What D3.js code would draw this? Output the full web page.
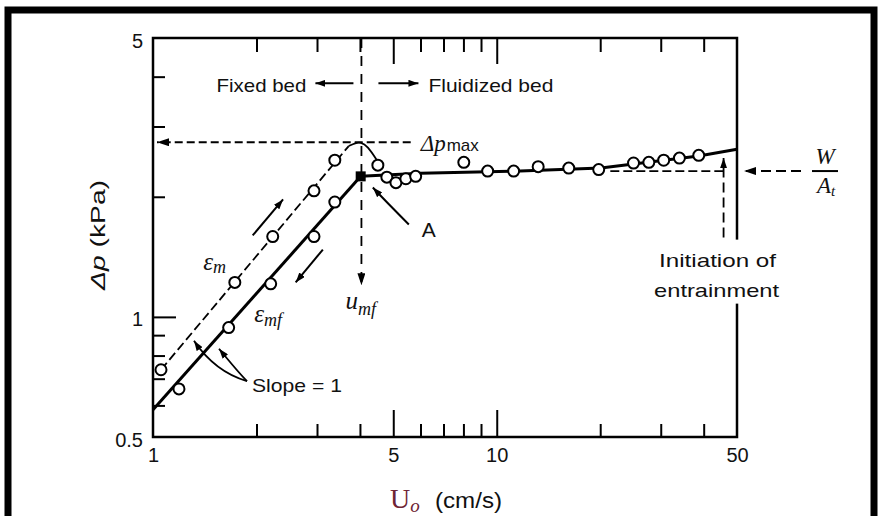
<!DOCTYPE html>
<html>
<head>
<meta charset="utf-8">
<script src="https://cdn.jsdelivr.net/npm/d3@7"></script>
<style>
  body { margin: 0; background: #fff; }
  svg text { font-family: "Liberation Sans", Arial, sans-serif; fill: #111; }
  .serif { font-family: "Liberation Serif", "Times New Roman", serif; font-style: italic; }
</style>
</head>
<body>
<svg id="chart" width="882" height="516"></svg>
<script>
// ---- data (U0 in cm/s, dp in kPa) ----
const xMinorTicks = [2, 3, 4, 6, 7, 8, 9, 20, 30, 40];
const xMajorTicks = [5, 10];
const xTickLabels = [1, 5, 10, 50];
const yMinorTicks = [0.6, 0.7, 0.8, 0.9, 2, 3, 4];
const yMajorTicks = [1];
const yTickLabels = [0.5, 1, 5];

// rising flow, fixed bed at eps_m (dashed)
const emU = [1.055, 1.73, 2.23, 2.94, 3.38];
const emP = [0.737, 1.22, 1.59, 2.07, 2.47];
// falling flow, fixed bed at eps_mf (solid)
const emfU = [1.19, 1.66, 2.20, 2.94, 3.38];
const emfP = [0.66, 0.94, 1.21, 1.59, 1.94];
// fluidized bed points
const fluidU = [4.51, 4.79, 5.09, 5.44, 5.81, 8.02, 9.41, 11.2, 13.2, 16.2, 19.8, 25.0, 27.7, 30.6, 34.0, 38.7];
const fluidP = [2.40, 2.24, 2.17, 2.22, 2.25, 2.44, 2.32, 2.32, 2.38, 2.36, 2.34, 2.43, 2.44, 2.47, 2.50, 2.54];

// drawn curves
const emLineU = [1.055, 3.71];
const emLineP = [0.737, 2.68];
const peakU = [3.71, 3.88, 4.02, 4.2, 4.51];
const peakP = [2.68, 2.73, 2.74, 2.69, 2.45];
const emfLineU = [1, 4.02];
const emfLineP = [0.585, 2.25];
const bedLineU = [4.02, 6.0, 11.7, 20.1, 38.7, 50];
const bedLineP = [2.25, 2.29, 2.32, 2.36, 2.53, 2.63];

const umf = 4.04;
const dpMax = 2.74;
const dpMaxEnd = 5.62;
const wAt = 2.32;
const wAtStart = 21.4;
const uEntrain = 45.7;

// ---- layout ----
const svg = d3.select("#chart");
const x = d3.scaleLog().domain([1, 50]).range([153, 737]);
const y = d3.scaleLog().domain([0.5, 5]).range([437, 38]);
const pt = (u, p) => [x(u), y(p)];

// outer frame
svg.append("rect")
  .attr("x", 8).attr("y", 10)
  .attr("width", 866).attr("height", 530)
  .attr("fill", "none").attr("stroke", "#000").attr("stroke-width", 7);

const defs = svg.append("defs");
defs.append("marker")
  .attr("id", "head")
  .attr("viewBox", "0 0 12 8")
  .attr("refX", 12).attr("refY", 4)
  .attr("markerWidth", 12).attr("markerHeight", 8)
  .attr("markerUnits", "userSpaceOnUse")
  .attr("orient", "auto")
  .append("path").attr("d", "M0,0 L12,4 L0,8 Z").attr("fill", "#000");
defs.append("marker")
  .attr("id", "headSm")
  .attr("viewBox", "0 0 10 7")
  .attr("refX", 10).attr("refY", 3.5)
  .attr("markerWidth", 10).attr("markerHeight", 7)
  .attr("markerUnits", "userSpaceOnUse")
  .attr("orient", "auto")
  .append("path").attr("d", "M0,0 L10,3.5 L0,7 Z").attr("fill", "#000");

// ---- axes (ticks point inward) ----
const axisStyle = g => {
  g.select(".domain").remove();
  g.selectAll("line").attr("stroke", "#000").attr("stroke-width", 2);
};
svg.append("g").attr("transform", `translate(0,${y(0.5)})`)
  .call(d3.axisBottom(x).tickValues(xMinorTicks).tickSize(-13).tickFormat(""))
  .call(axisStyle);
svg.append("g").attr("transform", `translate(0,${y(0.5)})`)
  .call(d3.axisBottom(x).tickValues(xMajorTicks).tickSize(-27).tickFormat(""))
  .call(axisStyle);
svg.append("g").attr("transform", `translate(0,${y(5)})`)
  .call(d3.axisTop(x).tickValues(xMinorTicks).tickSize(-14).tickFormat(""))
  .call(axisStyle);
svg.append("g").attr("transform", `translate(0,${y(5)})`)
  .call(d3.axisTop(x).tickValues(xMajorTicks).tickSize(-26).tickFormat(""))
  .call(axisStyle);
svg.append("g").attr("transform", `translate(${x(1)},0)`)
  .call(d3.axisLeft(y).tickValues(yMinorTicks).tickSize(-12).tickFormat(""))
  .call(axisStyle);
svg.append("g").attr("transform", `translate(${x(1)},0)`)
  .call(d3.axisLeft(y).tickValues(yMajorTicks).tickSize(-23).tickFormat(""))
  .call(axisStyle);

// tick labels
svg.append("g").attr("transform", `translate(0,${y(0.5)})`)
  .call(d3.axisBottom(x).tickValues(xTickLabels).tickSize(0).tickPadding(11).tickFormat(d3.format("d")))
  .call(g => g.select(".domain").remove())
  .selectAll("text").attr("font-size", 20).attr("fill", "#111")
  .attr("font-family", "Liberation Sans, Arial, sans-serif");
svg.append("g").attr("transform", `translate(${x(1)},0)`)
  .call(d3.axisLeft(y).tickValues(yTickLabels).tickSize(0).tickPadding(10).tickFormat(d3.format("")))
  .call(g => g.select(".domain").remove())
  .selectAll("text").attr("font-size", 20).attr("fill", "#111").attr("dy", "0.45em")
  .attr("font-family", "Liberation Sans, Arial, sans-serif");

// plot box
const box = svg.append("g").attr("stroke", "#000").attr("stroke-width", 2.5).attr("fill", "none");
box.append("path").attr("d", `M${x(1)},${y(5)} V${y(0.5)} H${x(50)} V${y(5)} Z`);

// ---- curves ----
const line = d3.line().x(d => x(d[0])).y(d => y(d[1]));
const zip = (a, b) => a.map((v, i) => [v, b[i]]);

svg.append("path").datum(zip(emLineU, emLineP)).attr("d", line)
  .attr("fill", "none").attr("stroke", "#000").attr("stroke-width", 1.8).attr("stroke-dasharray", "9,4");
svg.append("path").datum(zip(peakU, peakP)).attr("d", line.curve(d3.curveBasis))
  .attr("fill", "none").attr("stroke", "#000").attr("stroke-width", 1.8);
line.curve(d3.curveLinear);
svg.append("path").datum(zip(emfLineU, emfLineP)).attr("d", line)
  .attr("fill", "none").attr("stroke", "#000").attr("stroke-width", 3);
svg.append("path").datum(zip(bedLineU, bedLineP)).attr("d", line)
  .attr("fill", "none").attr("stroke", "#000").attr("stroke-width", 3);

// dp max reference
svg.append("line")
  .attr("x1", x(dpMaxEnd)).attr("y1", y(dpMax))
  .attr("x2", x(1) + 4).attr("y2", y(dpMax))
  .attr("stroke", "#000").attr("stroke-width", 1.8).attr("stroke-dasharray", "8,4")
  .attr("marker-end", "url(#head)");
// u_mf vertical
svg.append("line")
  .attr("x1", x(umf)).attr("y1", y(5))
  .attr("x2", x(umf)).attr("y2", y(1.2))
  .attr("stroke", "#000").attr("stroke-width", 1.8).attr("stroke-dasharray", "10,8")
  .attr("marker-end", "url(#head)");
// W/At dashed level
svg.append("line")
  .attr("x1", x(wAtStart)).attr("y1", y(wAt))
  .attr("x2", x(uEntrain)).attr("y2", y(wAt))
  .attr("stroke", "#000").attr("stroke-width", 1.8).attr("stroke-dasharray", "9,4");
svg.append("line")
  .attr("x1", x(50) + 64).attr("y1", y(wAt))
  .attr("x2", x(50) + 7).attr("y2", y(wAt))
  .attr("stroke", "#000").attr("stroke-width", 2).attr("stroke-dasharray", "10,5")
  .attr("marker-end", "url(#head)");
// entrainment vertical
svg.append("line")
  .attr("x1", x(uEntrain)).attr("y1", y(1.58))
  .attr("x2", x(uEntrain)).attr("y2", y(2.5))
  .attr("stroke", "#000").attr("stroke-width", 1.8).attr("stroke-dasharray", "10,5")
  .attr("marker-end", "url(#headSm)");

// point A
svg.append("rect")
  .attr("x", x(4.02) - 5).attr("y", y(2.25) - 5)
  .attr("width", 10).attr("height", 10).attr("fill", "#000");

// ---- data points ----
const allPts = zip(emU, emP).concat(zip(emfU, emfP), zip(fluidU, fluidP));
svg.append("g").selectAll("circle")
  .data(allPts)
  .enter().append("circle")
    .attr("cx", d => x(d[0]))
    .attr("cy", d => y(d[1]))
    .attr("r", 5.5)
    .attr("fill", "#fff")
    .attr("stroke", "#000")
    .attr("stroke-width", 2);

// ---- annotations ----
const arrow = (a, b, w) => svg.append("line")
  .attr("x1", a[0]).attr("y1", a[1]).attr("x2", b[0]).attr("y2", b[1])
  .attr("stroke", "#000").attr("stroke-width", w || 2).attr("marker-end", "url(#headSm)");

// direction arrows along the fixed-bed lines
arrow(pt(1.95, 1.60), pt(2.39, 1.97));
arrow(pt(3.12, 1.475), pt(2.60, 1.22));

// Fixed bed / Fluidized bed
const bedY = y(3.85);
arrow([x(umf) - 8, bedY], [x(umf) - 46, bedY]);
arrow([x(umf) + 17, bedY], [x(umf) + 57, bedY]);
svg.append("text").attr("x", x(umf) - 55).attr("y", bedY + 9)
  .attr("text-anchor", "end").attr("font-size", 19)
  .attr("textLength", 90).attr("lengthAdjust", "spacingAndGlyphs").text("Fixed bed");
svg.append("text").attr("x", x(umf) + 67).attr("y", bedY + 9)
  .attr("font-size", 19).attr("textLength", 125).attr("lengthAdjust", "spacingAndGlyphs")
  .text("Fluidized bed");

// dp max label
const dpl = svg.append("text").attr("x", x(dpMaxEnd) + 10).attr("y", y(dpMax) + 9).attr("font-size", 23);
dpl.append("tspan").attr("class", "serif").text("Δp");
dpl.append("tspan").attr("font-size", 17).attr("dx", 1).text("max");

// eps labels
const em = svg.append("text").attr("x", x(1.40)).attr("y", y(1.31)).attr("font-size", 25).attr("class", "serif");
em.append("tspan").text("ε");
em.append("tspan").attr("font-size", 18).attr("dy", 3).text("m");
const emf = svg.append("text").attr("x", x(1.97)).attr("y", y(0.97)).attr("font-size", 25).attr("class", "serif");
emf.append("tspan").text("ε");
emf.append("tspan").attr("font-size", 18).attr("dy", 4).text("mf");

// u_mf label
const um = svg.append("text").attr("x", x(umf) - 16).attr("y", y(1.2) + 24).attr("font-size", 25).attr("class", "serif");
um.append("tspan").text("u");
um.append("tspan").attr("font-size", 18).attr("dy", 6).text("mf");

// A label and leader
svg.append("path")
  .attr("d", `M${x(5.55)},${y(1.705)} Q${x(4.75)},${y(1.95)} ${x(4.36)},${y(2.11)}`)
  .attr("fill", "none").attr("stroke", "#000").attr("stroke-width", 2).attr("marker-end", "url(#headSm)");
svg.append("text").attr("x", x(5.55) + 13).attr("y", y(1.705) + 13).attr("font-size", 21).text("A");

// Slope = 1 with two leaders, one to each fixed-bed line
const sAnchor = pt(1.877, 0.69);
svg.append("path")
  .attr("d", `M${sAnchor[0]},${sAnchor[1]} Q${x(1.515)},${y(0.728)} ${x(1.316)},${y(0.871)}`)
  .attr("fill", "none").attr("stroke", "#000").attr("stroke-width", 1.8).attr("marker-end", "url(#headSm)");
svg.append("path")
  .attr("d", `M${sAnchor[0]},${sAnchor[1]} Q${x(1.767)},${y(0.728)} ${x(1.556)},${y(0.832)}`)
  .attr("fill", "none").attr("stroke", "#000").attr("stroke-width", 1.8).attr("marker-end", "url(#headSm)");
svg.append("text").attr("x", sAnchor[0] + 5).attr("y", sAnchor[1] + 11)
  .attr("font-size", 19).attr("textLength", 90).attr("lengthAdjust", "spacingAndGlyphs").text("Slope = 1");

// Initiation of entrainment (white backing hides the right axis)
const ie = svg.append("g");
ie.append("rect").attr("x", x(uEntrain) - 64).attr("y", y(1.58) + 2)
  .attr("width", 128).attr("height", 64).attr("fill", "#fff");
ie.append("text").attr("x", x(uEntrain) - 6).attr("y", y(1.58) + 29)
  .attr("text-anchor", "middle").attr("font-size", 19)
  .attr("textLength", 117).attr("lengthAdjust", "spacingAndGlyphs").text("Initiation of");
ie.append("text").attr("x", x(uEntrain) - 7).attr("y", y(1.58) + 59)
  .attr("text-anchor", "middle").attr("font-size", 19)
  .attr("textLength", 125).attr("lengthAdjust", "spacingAndGlyphs").text("entrainment");

// W / At
const wx = x(50) + 88;
svg.append("text").attr("x", wx).attr("y", y(wAt) - 7).attr("text-anchor", "middle")
  .attr("font-size", 23).attr("class", "serif").text("W");
svg.append("line").attr("x1", wx - 13).attr("x2", wx + 13).attr("y1", y(wAt)).attr("y2", y(wAt))
  .attr("stroke", "#000").attr("stroke-width", 2);
const at = svg.append("text").attr("x", wx - 8).attr("y", y(wAt) + 22).attr("font-size", 23).attr("class", "serif");
at.append("tspan").text("A");
at.append("tspan").attr("font-size", 15).attr("dy", 3).text("t");

// axis titles
const yt = svg.append("text")
  .attr("transform", `translate(105,235) rotate(-90)`)
  .attr("text-anchor", "middle").attr("font-size", 21)
  .attr("textLength", 110).attr("lengthAdjust", "spacingAndGlyphs");
yt.append("tspan").attr("font-style", "italic").text("Δp");
yt.append("tspan").text("  (kPa)");

const xt = svg.append("text").attr("x", 390).attr("y", 508);
xt.append("tspan").attr("font-family", "Liberation Serif, serif").attr("font-size", 28)
  .style("fill", "#6e2434").text("U");
xt.append("tspan").attr("font-family", "Liberation Serif, serif").attr("font-style", "italic")
  .attr("font-size", 19).attr("dy", 4).style("fill", "#6e2434").text("o");
svg.append("text").attr("x", 435).attr("y", 508).attr("font-size", 22)
  .attr("textLength", 67).attr("lengthAdjust", "spacingAndGlyphs").text("(cm/s)");
</script>
</body>
</html>
